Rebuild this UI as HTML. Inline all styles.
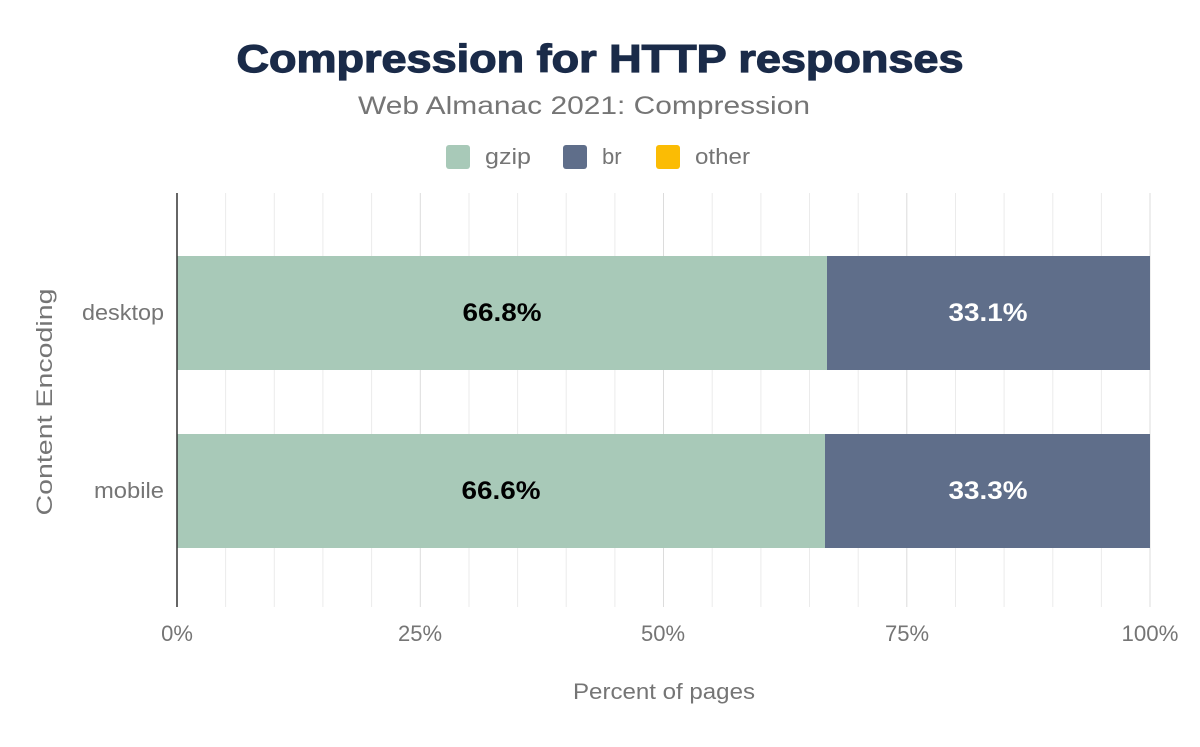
<!DOCTYPE html>
<html><head><meta charset="utf-8"><style>
body{margin:0;background:#fff;}
</style></head><body>
<svg width="1200" height="742" viewBox="0 0 1200 742" xmlns="http://www.w3.org/2000/svg" font-family="Liberation Sans, sans-serif">
<rect width="1200" height="742" fill="#fff"/>
<text x="600" y="72" text-anchor="middle" font-size="39" font-weight="900" fill="#1a2b49" textLength="727" lengthAdjust="spacingAndGlyphs" stroke="#1a2b49" stroke-width="1.2">Compression for HTTP responses</text>
<text x="584" y="114" text-anchor="middle" font-size="25" fill="#757575" textLength="452" lengthAdjust="spacingAndGlyphs">Web Almanac 2021: Compression</text>
<rect x="446" y="145" width="24" height="24" rx="3" fill="#a8c9b8"/>
<text x="485" y="164" font-size="22" fill="#757575" textLength="46" lengthAdjust="spacingAndGlyphs">gzip</text>
<rect x="563" y="145" width="24" height="24" rx="3" fill="#5f6e8a"/>
<text x="602" y="164" font-size="22" fill="#757575">br</text>
<rect x="656" y="145" width="24" height="24" rx="3" fill="#fbbc04"/>
<text x="695" y="164" font-size="22" fill="#757575" textLength="55" lengthAdjust="spacingAndGlyphs">other</text>
<g stroke="#ebebeb" stroke-width="1">
<line x1="225.6" y1="193" x2="225.6" y2="607"/><line x1="274.3" y1="193" x2="274.3" y2="607"/><line x1="322.9" y1="193" x2="322.9" y2="607"/><line x1="371.6" y1="193" x2="371.6" y2="607"/>
<line x1="469" y1="193" x2="469" y2="607"/><line x1="517.6" y1="193" x2="517.6" y2="607"/><line x1="566.2" y1="193" x2="566.2" y2="607"/><line x1="614.9" y1="193" x2="614.9" y2="607"/>
<line x1="712.2" y1="193" x2="712.2" y2="607"/><line x1="760.9" y1="193" x2="760.9" y2="607"/><line x1="809.5" y1="193" x2="809.5" y2="607"/><line x1="858.2" y1="193" x2="858.2" y2="607"/>
<line x1="955.5" y1="193" x2="955.5" y2="607"/><line x1="1004.1" y1="193" x2="1004.1" y2="607"/><line x1="1052.8" y1="193" x2="1052.8" y2="607"/><line x1="1101.4" y1="193" x2="1101.4" y2="607"/>
</g>
<g stroke="#dcdcdc" stroke-width="1">
<line x1="420.3" y1="193" x2="420.3" y2="607"/><line x1="663.5" y1="193" x2="663.5" y2="607"/><line x1="906.8" y1="193" x2="906.8" y2="607"/><line x1="1150" y1="193" x2="1150" y2="607"/>
</g>
<rect x="177" y="256" width="650" height="114" fill="#a8c9b8"/>
<rect x="827" y="256" width="323" height="114" fill="#5f6e8a"/>
<rect x="177" y="434" width="648" height="114" fill="#a8c9b8"/>
<rect x="825" y="434" width="325" height="114" fill="#5f6e8a"/>
<line x1="177" y1="193" x2="177" y2="607" stroke="#333" stroke-width="1.5"/>
<g font-size="25" font-weight="bold" text-anchor="middle">
<text x="502" y="321" fill="#000" textLength="79" lengthAdjust="spacingAndGlyphs">66.8%</text>
<text x="988" y="321" fill="#fff" textLength="79" lengthAdjust="spacingAndGlyphs">33.1%</text>
<text x="501" y="499" fill="#000" textLength="79" lengthAdjust="spacingAndGlyphs">66.6%</text>
<text x="988" y="499" fill="#fff" textLength="79" lengthAdjust="spacingAndGlyphs">33.3%</text>
</g>
<g font-size="22" fill="#757575">
<text x="164" y="320" text-anchor="end" textLength="82" lengthAdjust="spacingAndGlyphs">desktop</text>
<text x="164" y="498" text-anchor="end" textLength="70" lengthAdjust="spacingAndGlyphs">mobile</text>
<text x="177" y="641" text-anchor="middle">0%</text>
<text x="420" y="641" text-anchor="middle">25%</text>
<text x="663" y="641" text-anchor="middle">50%</text>
<text x="907" y="641" text-anchor="middle">75%</text>
<text x="1150" y="641" text-anchor="middle" textLength="57" lengthAdjust="spacingAndGlyphs">100%</text>
<text x="664" y="699" text-anchor="middle" textLength="182" lengthAdjust="spacingAndGlyphs">Percent of pages</text>
<text transform="translate(52,402) rotate(-90)" text-anchor="middle" textLength="227" lengthAdjust="spacingAndGlyphs">Content Encoding</text>
</g>
</svg>
</body></html>
